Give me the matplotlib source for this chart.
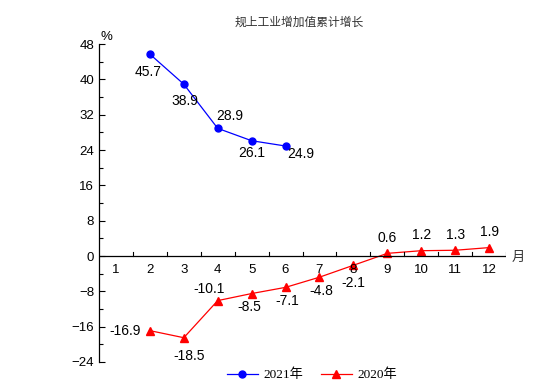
import numpy as np
import matplotlib.pyplot as plt

plt.rcParams['font.family'] = ['Liberation Sans', 'Noto Sans CJK SC']

months_2021 = [2, 3, 4, 5, 6]
vals_2021 = [45.7, 38.9, 28.9, 26.1, 24.9]
months_2020 = [2, 3, 4, 5, 6, 7, 8, 9, 10, 11, 12]
vals_2020 = [-16.9, -18.5, -10.1, -8.5, -7.1, -4.8, -2.1, 0.6, 1.2, 1.3, 1.9]
month_labels = [str(m) for m in range(1, 13)]
y_ticks = np.arange(-24, 49, 8)

# label offsets (points) for each value label
off_2021 = [(-1, -13), (1, -12), (9, 9), (0, -9), (11, -6)]
off_2020 = [(-18, 0), (4, -13), (-6, 8), (-2, -10), (1, -10), (1, -10), (0, -13),
            (0, 11), (0, 11), (0, 11), (0, 11)]

fig = plt.figure(figsize=(5.54, 3.87), dpi=100)
ax = fig.add_axes([0.1787, 0.0646, 0.7347, 0.8217])

l1, = ax.plot(months_2021, vals_2021, color='blue', lw=0.9, marker='o', ms=5, label='2021年')
l2, = ax.plot(months_2020, vals_2020, color='red', lw=0.9, marker='^', ms=5.5, label='2020年')

for x, y, o in zip(months_2021, vals_2021, off_2021):
    ax.annotate(f'{y:.1f}', (x, y), xytext=o, textcoords='offset points',
                ha='center', va='center', fontsize=10)
for x, y, o in zip(months_2020, vals_2020, off_2020):
    ax.annotate(f'{y:.1f}', (x, y), xytext=o, textcoords='offset points',
                ha='center', va='center', fontsize=10)

ax.set_xlim(0.5, 12.5)
ax.set_ylim(-24, 48)
ax.set_yticks(y_ticks)
ax.set_yticks(np.arange(-20, 48, 8), minor=True)
ax.tick_params(axis='y', which='both', direction='in', labelsize=9.5, length=4, width=0.8)
ax.tick_params(axis='y', which='minor', length=3)
ax.set_xticks([])
for s in ['top', 'right', 'bottom']:
    ax.spines[s].set_visible(False)
ax.spines['left'].set_linewidth(0.9)

# zero axis with category boundary ticks
ax.axhline(0, color='black', lw=0.9)
for b in np.arange(1.5, 12.6, 1):
    ax.plot([b, b], [0, 1.0], color='black', lw=0.8)
for i, lab in enumerate(month_labels):
    ax.annotate(lab, (i + 1, 0), xytext=(0, -10), textcoords='offset points',
                ha='center', va='center', fontsize=9.5)
ax.annotate('月', (12.5, 0), xytext=(9, -1), textcoords='offset points',
            ha='center', va='center', fontsize=9.5, color='#333333',
            family='Noto Sans CJK SC')

fig.text(0.193, 0.905, '%', fontsize=9.5, ha='center', va='center')
fig.text(0.54, 0.943, '规上工业增加值累计增长', fontsize=8.5, ha='center', va='center',
         color='#333333', family='Noto Sans CJK SC')

fig.legend(handles=[l1, l2], loc='center', bbox_to_anchor=(0.563, 0.031), ncol=2,
           frameon=False, handlelength=2.4, handletextpad=0.4, columnspacing=1.3,
           prop={'family': ['Liberation Serif', 'Noto Sans CJK SC'], 'size': 9.5})

plt.savefig('out.png', dpi=100)
